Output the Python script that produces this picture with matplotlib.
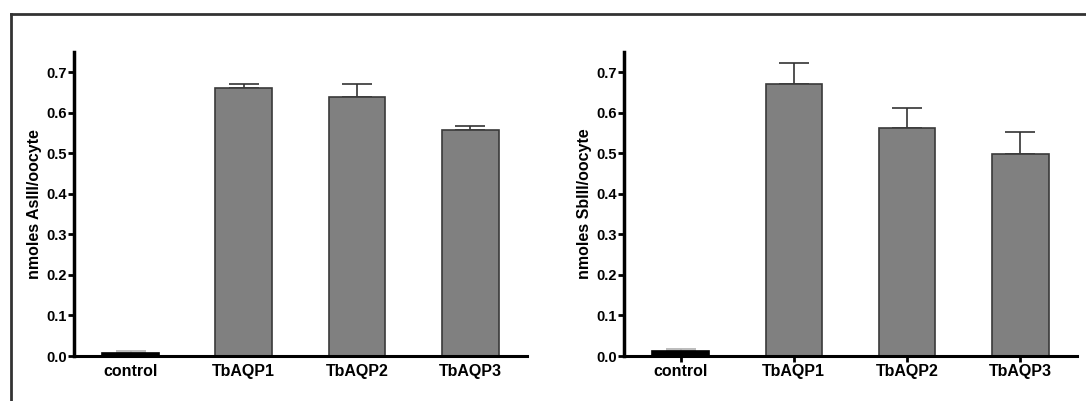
import matplotlib.pyplot as plt
from matplotlib.lines import Line2D

# Data
groups = ['control', 'TbAQP1', 'TbAQP2', 'TbAQP3']
as_mean = [0.008, 0.662, 0.638, 0.557]
as_err = [0.005, 0.010, 0.032, 0.010]
sb_mean = [0.013, 0.672, 0.562, 0.498]
sb_err = [0.004, 0.052, 0.051, 0.054]
y_ticks = [0.0, 0.1, 0.2, 0.3, 0.4, 0.5, 0.6, 0.7]

plt.rcParams['font.family'] = ['Liberation Sans', 'DejaVu Sans']
plt.rcParams['font.weight'] = 'bold'


def draw_panel(ax, means, errs, ylabel, xticks_marks):
    colors = ['black', '#808080', '#808080', '#808080']
    edges = ['black', '#3a3a3a', '#3a3a3a', '#3a3a3a']
    x = list(range(len(groups)))
    ax.bar(x, means, width=0.5, color=colors, edgecolor=edges, linewidth=1.2, zorder=2)
    # one-sided error bars (up only)
    for i in x:
        ecol = '#b0b0b0' if i == 0 else '#333333'
        ax.errorbar(i, means[i], yerr=[[0], [errs[i]]], fmt='none', ecolor=ecol,
                    elinewidth=1.2, capsize=10.5, capthick=1.2, zorder=1)
    ax.set_xlim(-0.5, 3.5)
    ax.set_ylim(0, 0.75)
    ax.set_yticks(y_ticks)
    ax.set_yticklabels([f'{v:.1f}' for v in y_ticks], fontsize=10.5, fontweight='bold')
    ax.set_xticks(x)
    ax.set_xticklabels(groups, fontsize=11.5, fontweight='bold')
    ax.tick_params(axis='y', length=4, width=2, pad=1)
    if xticks_marks:
        ax.tick_params(axis='x', length=4, width=2, pad=2)
    else:
        ax.tick_params(axis='x', length=0, pad=6)
    ax.set_ylabel(ylabel, fontsize=11.5, fontweight='bold', labelpad=3)
    for s in ['top', 'right']:
        ax.spines[s].set_visible(False)
    ax.spines['left'].set_linewidth(2.5)
    ax.spines['bottom'].set_linewidth(2.2)


fig = plt.figure(figsize=(10.86, 4.01), dpi=100)
ax1 = fig.add_axes([0.0681, 0.1122, 0.417, 0.758])
ax2 = fig.add_axes([0.5746, 0.1122, 0.417, 0.758])
draw_panel(ax1, as_mean, as_err, 'nmoles AsIII/oocyte', False)
draw_panel(ax2, sb_mean, sb_err, 'nmoles SbIII/oocyte', True)

# partial outer frame (top and left edges)
fig.add_artist(Line2D([0.0101, 1.0], [0.965, 0.965], transform=fig.transFigure,
                      color='#333333', linewidth=2))
fig.add_artist(Line2D([0.0101, 0.0101], [0.0, 0.965], transform=fig.transFigure,
                      color='#333333', linewidth=2))

fig.savefig('out.png', dpi=100)
